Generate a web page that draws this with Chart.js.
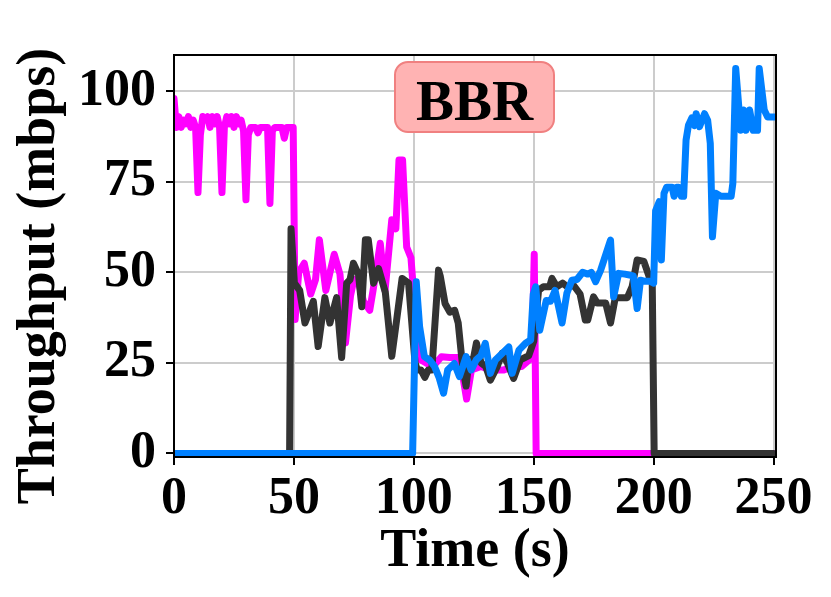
<!DOCTYPE html>
<html>
<head>
<meta charset="utf-8">
<script src="https://cdn.jsdelivr.net/npm/chart.js@4.4.1/dist/chart.umd.min.js"></script>
<style>
  body { margin: 0; background: #fff; }
  canvas { display: block; }
</style>
</head>
<body>
<canvas id="chart" width="831" height="597"></canvas>
<script>
// flow 1 (magenta)
const pinkTime = [0,1,2,3,4,5,6,7,8,9,10,11,12,13,14,15,16,17,18,19,20,21,22,23,24,25,26,27,28,29,30,31,32,33,34,35,36,37,38,39,40,41,42,43,44,45,46,47,48,49,
  49.7,50.5,52,54.3,57,59,60.6,63.3,66.8,69.2,71.5,73.6,75,77,79,81.6,83,86,88,90.8,92.5,93.8,95.3,97,98.8,101,102.5,105,108,111.5,115,118.4,120,122,124,128,132,137.5,141,145,148.5,149.3,150.2,151,250];
const pinkTput = [98,90,93,90,92,91,93,90,92,90,72,88,93,92,93,90,93,91,93,90,72,90,93,91,93,90,93,91,92,89,70,88,90,90,90,88.5,90,90,90,90,69,89,90,90,90,90,87,90,90,90,
  90,37,50,52.5,44,48,59,45,55,49.5,30.5,43.5,48,47,42,39.5,45,58,45,64.5,62,81,81,57,54,35,26,25,24,26.7,26.5,26.5,23,15,23,24,23,23,24,24,26,27,55,0,0];

// flow 2 (black)
const blackTime = [0,48.2,48.8,50.2,52.4,54.6,56.7,58.1,60.1,62.9,65,67.8,69.9,72,73.4,74.8,76.9,78.3,79.8,81,83.2,85.3,88.1,90.8,93,95.1,97.8,
  100.5,101.5,103,104.6,106,107.5,110.3,111,113,115,117,118.5,120.4,121.8,123,124.5,126.1,128,130,131.9,134.7,136.8,139,141.6,144.4,147.9,150,
  152,154,156.6,157.6,159.6,162,164,166.5,169.3,171.5,172.5,174.9,176.5,180,182,184,189,191,193.1,195.9,198,199.4,200.2,250];
const blackTput = [0,0,62,47,45,36,39.5,42,29.5,43,36,43,26.5,47,48,52.5,49.5,40.5,59,59,47,51,44.5,26.8,37.7,48.3,47,
  25,23,23,21,23,23,50.6,49,41.4,39,39.5,36,23.5,18.6,25.9,25,30.5,25,24,20.2,23.9,27.6,25,20.7,25.8,27,31,
  45,46,46,48.3,46,47,46,46.5,44,36.8,36.8,43.2,41.5,41.5,36,43,43,46,53.4,53,49,47,0,0];

// flow 3 (blue)
const blueTime = [0,99.5,101,102.4,104.4,106.5,108.6,110.5,112.4,114.1,116.9,119,121.8,123.9,126,128,129.8,131.9,134,136.8,139.6,141,143.8,146.6,148.7,149.8,150.8,
  152.5,155.2,157,158.9,161.8,163.8,165.9,168,170.4,172.5,174,175.8,177.9,182,183.3,185.4,188,191.5,193.1,194.5,196.5,198.6,200,
  200.8,202.3,203.2,204.3,205.4,207.7,208.5,209.5,210.5,211.5,212.5,213.5,214.5,215.9,217,217.7,219.1,221.2,222.5,223.6,224.5,225.9,228,232.3,233,
  234.2,235.6,236.3,237.5,238.5,240,241.5,243.3,244,246.1,247.5,250.3];
const blueTput = [0,0,47.4,35,26.7,25.8,24,21,16.6,23,24.8,21.2,26.7,23,25.8,27,30.4,22.1,25.8,27.6,29.4,22.1,28.5,30.4,31.3,44,46,
  34,42.2,42,45,36,44.2,47.8,48,50,49.5,50,47.4,50.6,58.9,43.2,49.7,49.5,49,40,47.8,47.5,47.5,47,
  67,69.5,53.4,71.8,73.5,73.5,71,73.5,73.5,71,71,86.5,90.6,92.6,90.5,93.8,90.2,93.8,92,85.6,59.8,71.8,71,71,74.5,
  106.3,94.8,89.2,94.8,89.2,94.8,89.2,89.2,106.3,94.8,92.9,92.9];

const xTicks = [0, 50, 100, 150, 200, 250];
const yTicks = [0, 25, 50, 75, 100];

const serif = '"Liberation Serif", "Times New Roman", serif';

function toPoints(ts, vs) {
    return ts.map((t, i) => ({ x: t, y: vs[i] }));
}

// higher order is painted first, so blue (order 0) ends up on top
function lineSet(ts, vs, color, order) {
    return {
        data: toPoints(ts, vs),
        order: order,
        borderColor: color,
        backgroundColor: color,
        borderWidth: 7,
        pointRadius: 0,
        tension: 0,
        fill: false,
        borderJoinStyle: "round",
        borderCapStyle: "round"
    };
}

// box round the plot, title badge, axis labels
const decorations = {
    id: "decorations",
    afterDatasetsDraw(chart) {
        const ctx = chart.ctx;
        const a = chart.chartArea;
        ctx.save();
        ctx.strokeStyle = "#000";
        ctx.lineWidth = 2;
        ctx.strokeRect(a.left, a.top, a.right - a.left, a.bottom - a.top);

        // BBR badge
        ctx.beginPath();
        ctx.roundRect(395, 62, 159, 70, 13);
        ctx.fillStyle = "#ffb3b3";
        ctx.fill();
        ctx.lineWidth = 2;
        ctx.strokeStyle = "#f08080";
        ctx.stroke();
        ctx.fillStyle = "#000";
        ctx.font = "bold 57px " + serif;
        ctx.textAlign = "center";
        ctx.textBaseline = "alphabetic";
        ctx.fillText("BBR", 474.5, 120);

        // axis titles
        ctx.font = "bold 54px " + serif;
        ctx.fillText("Time (s)", (a.left + a.right) / 2, 566);
        ctx.translate(54, 276);
        ctx.rotate(-Math.PI / 2);
        ctx.fillText("Throughput (mbps)", 0, 0);
        ctx.restore();
    }
};

new Chart(document.getElementById("chart").getContext("2d"), {
    type: "line",
    data: {
        datasets: [
            lineSet(pinkTime, pinkTput, "#ff00ff", 2),
            lineSet(blackTime, blackTput, "#333333", 1),
            lineSet(blueTime, blueTput, "#0080ff", 0)
        ]
    },
    options: {
        responsive: false,
        animation: false,
        layout: { padding: { left: 0, top: 55, right: 55, bottom: 0 } },
        plugins: {
            legend: { display: false },
            tooltip: { enabled: false }
        },
        scales: {
            x: {
                type: "linear",
                min: 0,
                max: 251,
                afterFit(scale) { scale.height = 140; },
                afterBuildTicks(scale) { scale.ticks = xTicks.map(v => ({ value: v })); },
                grid: { color: "#cccccc", lineWidth: 2, tickLength: 8, tickColor: "#000", tickWidth: 2 },
                border: { display: false },
                ticks: {
                    autoSkip: false,
                    maxRotation: 0,
                    padding: 3,
                    color: "#000",
                    font: { family: serif, size: 52, weight: "bold" }
                }
            },
            y: {
                min: -1,
                max: 110,
                afterFit(scale) { scale.width = 174; },
                afterBuildTicks(scale) { scale.ticks = yTicks.map(v => ({ value: v })); },
                grid: { color: "#cccccc", lineWidth: 2, tickLength: 8, tickColor: "#000", tickWidth: 2 },
                border: { display: false },
                ticks: {
                    autoSkip: false,
                    padding: 10,
                    color: "#000",
                    font: { family: serif, size: 52, weight: "bold" }
                }
            }
        }
    },
    plugins: [decorations]
});
</script>
</body>
</html>
